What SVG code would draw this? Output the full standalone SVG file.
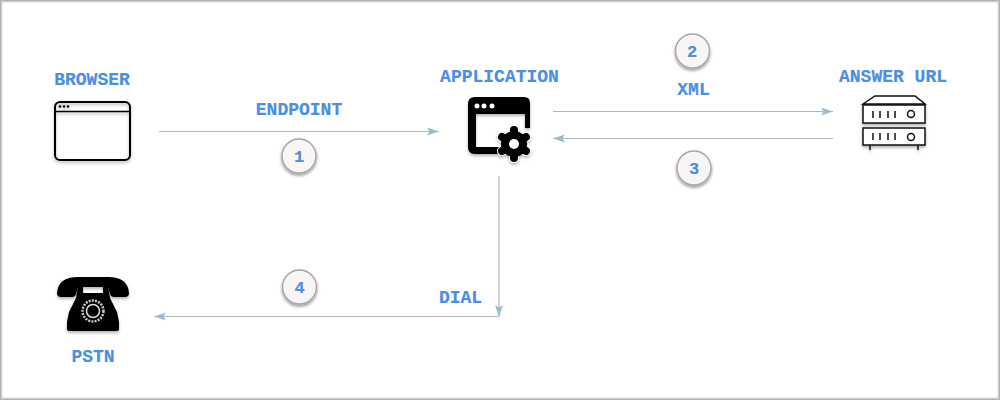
<svg xmlns="http://www.w3.org/2000/svg" width="1000" height="400" viewBox="0 0 1000 400">
<style>
.t{font-family:"Liberation Mono",monospace;font-weight:bold;font-size:18px;fill:#4a8fe3;stroke:#4a8fe3;stroke-width:.2;text-anchor:middle}
.n{font-size:17px}
.c{fill:#f8f5f4;stroke:#a8a8a8;stroke-width:1.5;filter:url(#s)}
.l{fill:none;stroke:#b5b5b5;stroke-width:1.2}
.o{fill:none;stroke:#000}
.f{fill:none}
</style>
<defs>
<filter id="s" x="-30%" y="-30%" width="160%" height="170%"><feDropShadow dx="0" dy="2" stdDeviation="1.5" flood-color="#000" flood-opacity="0.4"/></filter>
<filter id="i" x="-20%" y="-20%" width="140%" height="150%"><feDropShadow dx="0" dy="2" stdDeviation="1.5" flood-color="#000" flood-opacity="0.3"/></filter>
<marker id="a" markerUnits="userSpaceOnUse" markerWidth="14" markerHeight="10" refX="12" refY="4" orient="auto"><path d="M0 0L12 4L0 8L2.500 4Z" fill="#9dbccb"/></marker>
</defs>
<rect x="0.5" y="0.5" width="999" height="399" fill="#fff" stroke="#b0b0b0"/>
<rect class="f" x="1.5" y="1.5" width="997" height="397" stroke="#d4d4d4"/>
<rect class="f" x="2.5" y="2.5" width="995" height="395" stroke="#ececec"/>
<g id="connectors">
<path class="l" d="M159 131.500H439" marker-end="url(#a)"/>
<path class="l" d="M553 111.500H833" marker-end="url(#a)"/>
<path class="l" d="M833 138.500H553" marker-end="url(#a)"/>
<path class="l" d="M499 176V317" marker-end="url(#a)"/>
<path class="l" d="M498 316.500H154" marker-end="url(#a)"/>
</g>
<g id="browser">
<text class="t" x="92" y="85">BROWSER</text>
<g filter="url(#i)">
<rect class="o" x="55" y="102" width="75" height="58" rx="5" fill="#fff" stroke-width="2"/>
<path class="o" d="M55 111.500H130" stroke-width="1.500"/>
<circle cx="60" cy="106.500" r="1.300"/><circle cx="64" cy="106.500" r="1.300"/><circle cx="68" cy="106.500" r="1.300"/>
</g>
</g>
<g id="application">
<text class="t" x="499.500" y="82">APPLICATION</text>
<g filter="url(#i)">
<path d="M475 97H524Q530 97 530 103V128H525V114H476V147H500V154H475Q468 154 468 147V104Q468 97 475 97Z"/>
<circle cx="477" cy="106" r="2.500" fill="#fff"/><circle cx="484" cy="106" r="2.500" fill="#fff"/><circle cx="492" cy="106" r="2.500" fill="#fff"/>
<g stroke="#fff" stroke-width="10" stroke-linecap="round"><path d="M514 144V130M514 144V158M514 144L502 137M514 144L526 137M514 144L502 151M514 144L526 151"/></g>
<circle cx="514" cy="144" r="13"/>
<g stroke="#000" stroke-width="8" stroke-linecap="round"><path d="M514 144V130M514 144V158M514 144L502 137M514 144L526 137M514 144L502 151M514 144L526 151"/></g>
<circle cx="514" cy="144" r="5" fill="#fff"/>
</g>
</g>
<g id="answer-url">
<text class="t" x="893" y="82">ANSWER URL</text>
<g filter="url(#i)" stroke="#111" stroke-width="1.500" fill="none">
<path d="M863 104L875 96H915L925 104Z" fill="#fff"/>
<rect x="863" y="105" width="62" height="18" fill="#fff"/>
<rect x="863" y="128" width="62" height="17" fill="#fff"/>
<path d="M873 111V118M880 111V118M888 111V118M895 111V118M873 133V140M880 133V140M888 133V140M895 133V140M870 145V150M918 145V150"/>
<circle cx="911" cy="114" r="3.500"/><circle cx="911" cy="137" r="3.500"/>
</g>
</g>
<g id="pstn">
<g filter="url(#i)">
<path d="M57 293Q58 277 78 277H108Q128 277 129 293Q129 297 125 297H114Q111 297 110 294L108 287H78L76 294Q75 297 72 297H61Q57 297 57 293Z"/>
<path fill-rule="evenodd" d="M78 286H108L110 298L117 312L119 322V329Q119 331 116 331H70Q67 331 67 329V322L69 312L76 298ZM83 287V293H103V287Z"/>
<circle cx="93" cy="311" r="10.500" fill="none" stroke="#ccc" stroke-width="2.500" stroke-dasharray="2 1.200"/>
<circle cx="93" cy="311" r="6.500" fill="none" stroke="#ddd" stroke-width="1.500"/>
</g>
<text class="t" x="93" y="362">PSTN</text>
</g>
<g id="endpoint-label"><text class="t" x="299" y="114.500">ENDPOINT</text></g>
<g id="xml-label"><text class="t" x="693.500" y="94.500">XML</text></g>
<g id="dial-label"><text class="t" x="460.500" y="303">DIAL</text></g>
<g id="step-1"><circle class="c" cx="299" cy="156" r="17"/><text class="t n" x="299" y="162">1</text></g>
<g id="step-2"><circle class="c" cx="692.500" cy="51" r="17"/><text class="t n" x="692" y="57">2</text></g>
<g id="step-3"><circle class="c" cx="694" cy="168" r="17"/><text class="t n" x="694" y="174">3</text></g>
<g id="step-4"><circle class="c" cx="299.500" cy="287" r="17"/><text class="t n" x="299.500" y="293">4</text></g>
</svg>
